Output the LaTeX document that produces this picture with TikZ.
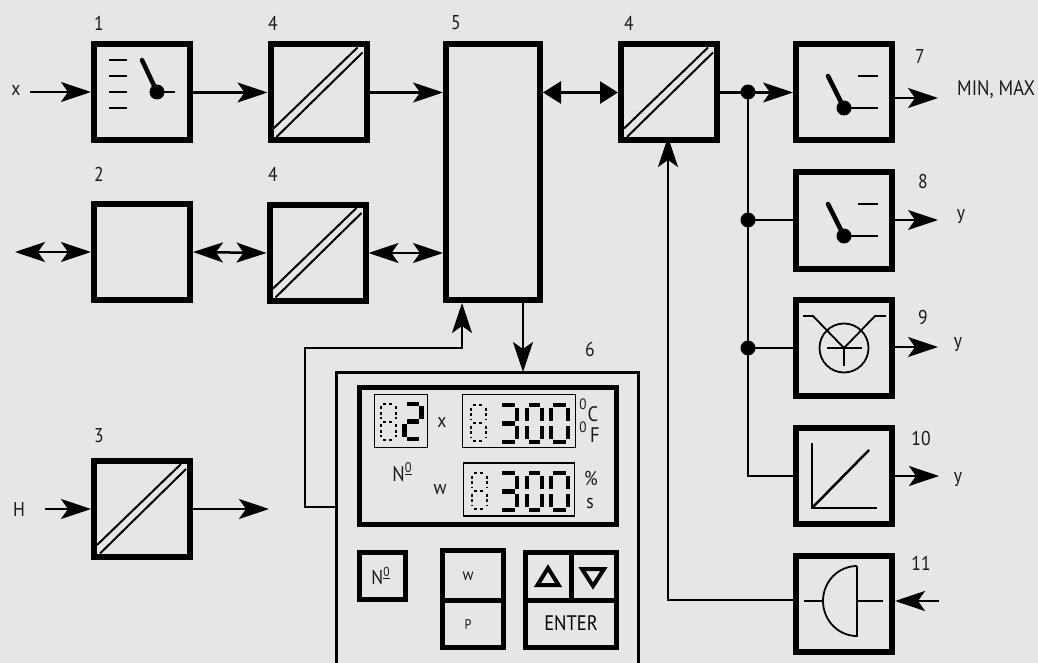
\documentclass[tikz,border=0pt]{standalone}
\usepackage{fontspec}
\setmainfont[FakeStretch=0.88]{PT Sans}
\usetikzlibrary{arrows.meta,calc}
\definecolor{bgc}{HTML}{E6E6E6}
\tikzset{
 x=1pt,y=-1pt,
 barb/.tip={Stealth[length=30pt,width=20pt,inset=7pt]},
 tri/.tip={Triangle[length=18pt,width=22pt]},
 blockbox/.style={draw=black,line width=6pt,minimum width=96pt,minimum height=96pt,inner sep=0pt,fill=bgc},
 conn/.style={line width=2.5pt,line join=miter},
 arr/.style={conn,-barb},
 darr/.style={conn,barb-barb},
 tarr/.style={conn,tri-tri},
 dotn/.style={circle,fill=black,inner sep=0pt,minimum size=15pt},
 lbl/.style={font=\fontsize{20}{20}\selectfont,inner sep=0pt,text=black!90},
 small/.style={font=\fontsize{15}{15}\selectfont,inner sep=0pt,text=black!90},
 sym/.style={line width=2.5pt},
 thin sym/.style={line width=1.8pt},
 disp/.style={draw=black,line width=1.5pt,inner sep=0pt,fill=bgc},
 btn/.style={draw=black,line width=5pt,inner sep=0pt,fill=bgc},
 seg on/.style={line width=4.5pt},
 seg off/.style={line width=2pt,dash pattern=on 3pt off 2.5pt},
}
% \digitat{x0}{y0}{w}{h}{style}{segments}
\newcommand\digitat[6]{%
 \begin{scope}[shift={(#1,#2)}]
 \foreach \s in {#6}{
  \if\s a\draw[#5] (0.14*#3,0) -- (0.86*#3,0);\fi
  \if\s b\draw[#5] (#3,0.07*#4) -- (#3,0.43*#4);\fi
  \if\s c\draw[#5] (#3,0.57*#4) -- (#3,0.93*#4);\fi
  \if\s d\draw[#5] (0.14*#3,#4) -- (0.86*#3,#4);\fi
  \if\s e\draw[#5] (0,0.57*#4) -- (0,0.93*#4);\fi
  \if\s f\draw[#5] (0,0.07*#4) -- (0,0.43*#4);\fi
  \if\s g\draw[#5] (0.14*#3,0.5*#4) -- (0.86*#3,0.5*#4);\fi
 }
 \end{scope}}
\begin{document}
\begin{tikzpicture}
\useasboundingbox (0,0) rectangle (1038,663);
\fill[bgc] (0,0) rectangle (1038,663);
\clip (0,0) rectangle (1038,663);

% panel
\node[draw=black,line width=2.5pt,inner sep=0pt,minimum width=302pt,minimum height=300pt,anchor=north west] (panel) at (335,371.25) {};

% blocks
\node[blockbox] (b1)  at (142,92.5) {};
\node[blockbox] (b4a) at (318.5,92.5) {};
\node[blockbox,minimum height=256pt,minimum width=94pt] (b5) at (493,172) {};
\node[blockbox] (b4c) at (669,92.5) {};
\node[blockbox] (b2)  at (142,252) {};
\node[blockbox] (b4b) at (317.5,253) {};
\node[blockbox] (b3)  at (142,509) {};
\node[blockbox] (b7)  at (844,92) {};
\node[blockbox] (b8)  at (844,220.5) {};
\node[blockbox] (b9)  at (844,347.5) {};
\node[blockbox] (b10) at (844,476) {};
\node[blockbox] (b11) at (844,604) {};

% free ends
\coordinate (xin) at (30,92);
\coordinate (hin) at (45,509);
\coordinate (hout) at (269,509);
\coordinate (bus) at (748,92);
\coordinate (d8) at (748,220);
\coordinate (d9) at (748,348);
\coordinate (o7) at (938,98);
\coordinate (o8) at (938,220);
\coordinate (o9) at (938,347);
\coordinate (o10) at (939,476);
\coordinate (i11) at (939,601);
\coordinate (l2) at (15,252);

% connectors
\draw[arr] (xin) -- (b1.west |- xin);
\draw[arr] (b1.east) -- (b4a.west);
\draw[arr] (b4a.east) -- (b5.west |- b4a.east);
\draw[tarr] (b5.east |- b4c.west) -- (b4c.west);
\draw[arr] (b4c.east) -- (b7.west |- b4c.east);
\draw[conn] (bus) -- (748,476) -- (b10.west);
\draw[conn] (d8) -- (b8.west |- d8);
\draw[conn] (d9) -- (b9.west |- d9);
\node[dotn] (n1) at (bus) {};
\node[dotn] (n2) at (d8) {};
\node[dotn] (n3) at (d9) {};
\draw[darr] (l2) -- (b2.west);
\draw[darr] (b2.east) -- (b4b.west);
\draw[darr] (b4b.east) -- (b5.west |- b4b.east);
\draw[arr] (hin) -- (b3.west);
\draw[arr] (b3.east) -- (hout);
\draw[arr] (b7.east |- o7) -- (o7);
\draw[arr] (b8.east |- o8) -- (o8);
\draw[arr] (b9.east |- o9) -- (o9);
\draw[arr] (b10.east) -- (o10);
\draw[arr] (i11) -- (b11.east |- i11);

% converter slashes
\foreach \n in {b4a,b4b,b4c,b3}{
 \draw[line width=2pt] ($(\n.south west)+(6,-15)$) -- ($(\n.north east)+(-12,6)$);
 \draw[line width=2pt] ($(\n.south west)+(9,-6.5)$) -- ($(\n.north east)+(-7,11)$);
}
\draw[arr] (b11.west |- 0,600) -- (668,600) -- (668,137);
\draw[arr] (b5.south -| 523,0) -- (523,372);
\draw[arr] (panel.west |- 0,507) -- (305,507) -- (305,348) -- (462,348) -- (b5.south -| 462,0);

% block 1 symbol
\foreach \yy in {60,76,92,108}{\draw[sym] (109,\yy) -- (127,\yy);}
\draw[line width=4.5pt,line cap=round] (142,60) -- (157,92);
\draw[sym] (157,92) -- (175,92);
\node[dotn] (p1) at (157,92) {};
% block 7, 8 symbols
\foreach \dy in {0,128}{
 \draw[sym] (858,76+\dy) -- (878,76+\dy);
 \draw[line width=4.5pt,line cap=round] (828,76+\dy) -- (844,108+\dy);
 \draw[sym] (844,108+\dy) -- (878,108+\dy);
 \node[circle,fill=black,inner sep=0pt,minimum size=15pt] at (844,108+\dy) {};
}
% block 9
\draw[thin sym] (844,348) circle (24.5);
\draw[thin sym] (803,316) -- (813,316) -- (844,348) -- (875,316) -- (886,316);
\draw[thin sym] (827,348) -- (862,348);
\draw[sym] (844,348) -- (844,366);
% block 10
\draw[sym] (812,443) -- (812,508) -- (877,508);
\draw[sym] (812,508) -- (869,450);
% block 11
\draw[thin sym] (804,601) -- (824,601);
\draw[thin sym] (858,601) -- (883,601);
\draw[thin sym] (857,566) -- (857,636) arc[start angle=270,end angle=90,x radius=34,y radius=-35];
\node[lbl] at (99,23) {1};
\node[lbl] at (273,23) {4};
\node[lbl] at (456,23) {5};
\node[lbl] at (629,23) {4};
\node[lbl] at (99,174) {2};
\node[lbl] at (273,174) {4};
\node[lbl] at (99,436) {3};
\node[lbl] at (920,57) {7};
\node[lbl] at (923,182) {8};
\node[lbl] at (923,317) {9};
\node[lbl] at (921,438) {10};
\node[lbl] at (921,563) {11};
\node[lbl] at (590,349) {6};
\node[lbl] at (16,91) {x};
\node[lbl] at (19,509) {H};
\node[lbl,anchor=west,font=\fontsize{21}{21}\selectfont] at (957,90) {MIN, MAX};
\node[lbl] at (961,217) {y};
\node[lbl] at (958,345) {y};
\node[lbl] at (958,480) {y};

% display
\node[btn,minimum width=257pt,minimum height=137pt] (lcd) at (488,456) {};
\node[disp,minimum width=53pt,minimum height=53pt] (d1) at (401,421) {};
\node[disp,minimum width=113pt,minimum height=53pt] (d2) at (519,421) {};
\node[disp,minimum width=111pt,minimum height=53pt] (d3) at (519,489.5) {};
\digitat{381}{403.5}{15}{36}{seg off}{a,b,c,d,e,f,g}
\digitat{404.5}{404}{17}{35}{seg on}{a,b,g,e,d}
\digitat{471}{405}{15}{36}{seg off}{a,b,c,d,e,f,g}
\digitat{500}{405}{17}{37}{seg on}{a,b,c,d,g}
\digitat{527}{405}{15}{37}{seg on}{a,b,c,d,e,f}
\digitat{551}{405}{17}{37}{seg on}{a,b,c,d,e,f}
\digitat{472}{473}{15}{36}{seg off}{a,b,c,d,e,f,g}
\digitat{500}{473}{17}{37}{seg on}{a,b,c,d,g}
\digitat{527}{473}{15}{37}{seg on}{a,b,c,d,e,f}
\digitat{551}{473}{17}{37}{seg on}{a,b,c,d,e,f}
\node[lbl] at (442,422) {x};
\node[lbl] at (440,490) {w};
\node[lbl,font=\fontsize{21}{21}\selectfont] at (402,472) {N\raisebox{0.4em}{\fontsize{14}{14}\selectfont\underline{0}}};
\node[small] at (583,404.5) {0};
\node[lbl,font=\fontsize{21}{21}\selectfont] at (593,414.5) {C};
\node[small] at (583,427) {0};
\node[lbl,font=\fontsize{21}{21}\selectfont] at (595,435.5) {F};
\node[lbl] at (591,478) {\%};
\node[lbl] at (590,503) {s};

% buttons
\node[btn,minimum width=46pt,minimum height=47pt] (bn) at (382.5,576) {};
\node[lbl,font=\fontsize{20}{20}\selectfont] (tn) at (380.5,576) {N\raisebox{0.4em}{\fontsize{13}{13}\selectfont\underline{0}}};
\node[btn,minimum width=61pt,minimum height=50pt] (bw) at (473,575.5) {};
\node[lbl,font=\fontsize{17}{17}\selectfont] (tw) at (468,576) {w};
\node[btn,minimum width=61pt,minimum height=47pt] (bp) at (473,624) {};
\node[lbl,font=\fontsize{14}{14}\selectfont] (tp) at (468,625) {P};
\node[btn,minimum width=91pt,minimum height=47pt,font=\fontsize{21}{21}\selectfont] (ent) at (571,623.5) {ENTER};
\node[btn,minimum width=46pt,minimum height=48pt] (bup) at (548,576) {};
\node[btn,minimum width=45pt,minimum height=48pt] (bdn) at (594,576) {};
\draw[line width=4pt,miter limit=10] (537.5,585) -- (548,568) -- (558.5,585) -- cycle;
\draw[line width=4pt,miter limit=10] (582,569) -- (604,569) -- (593,586) -- cycle;
\end{tikzpicture}
\end{document}
